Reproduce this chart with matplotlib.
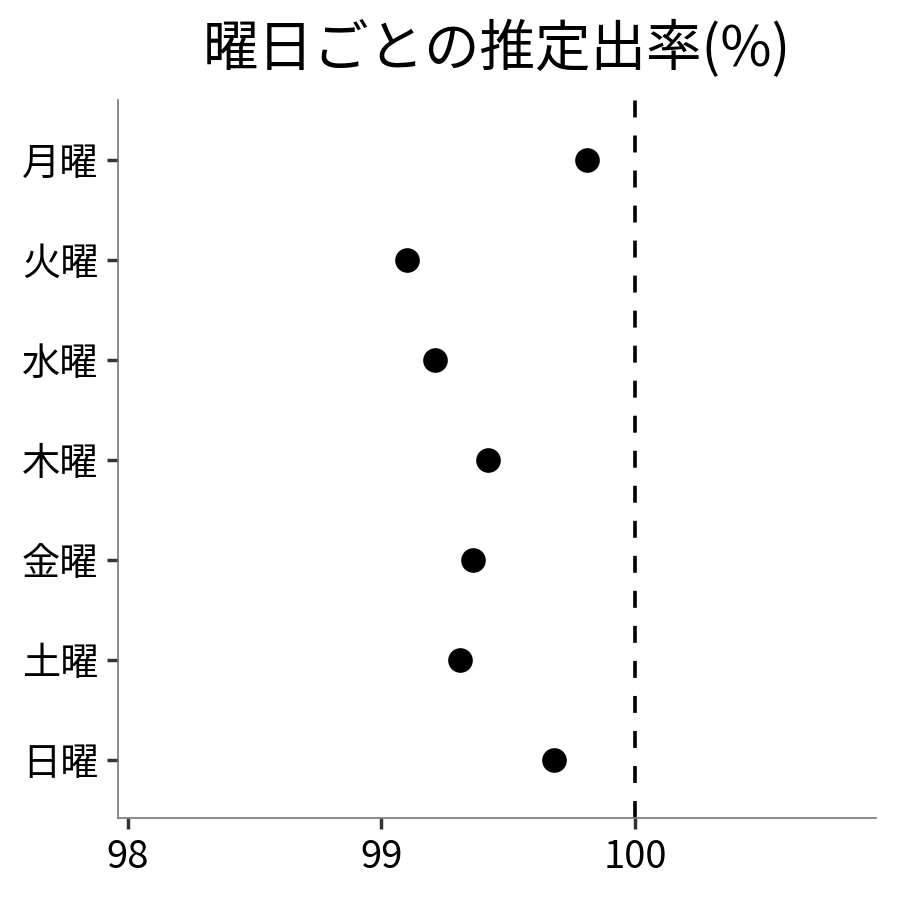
import matplotlib.pyplot as plt

plt.rcParams['font.family'] = ['Noto Sans CJK JP', 'DejaVu Sans']

days = ['月曜', '火曜', '水曜', '木曜', '金曜', '土曜', '日曜']
rates = [99.81, 99.10, 99.21, 99.42, 99.36, 99.31, 99.68]
ref_line = 100
xticks = [98, 99, 100]

fig = plt.figure(figsize=(9, 9), dpi=100)
ax = fig.add_axes([0.131, 0.091, 0.842, 0.798])

ypos = list(range(len(days)))[::-1]
ax.scatter(rates, ypos, s=280, color='black', zorder=3)
ax.axvline(ref_line, color='black', lw=2.6, dashes=(4.7, 5.0))

ax.set_yticks(ypos)
ax.set_yticklabels(days)
ax.set_xticks(xticks)
ax.set_xlim(97.96, 100.95)
ax.set_ylim(-0.58, 6.6)

for s in ['top', 'right']:
    ax.spines[s].set_visible(False)
for s in ['left', 'bottom']:
    ax.spines[s].set_color('#777777')
    ax.spines[s].set_linewidth(1.2)
ax.tick_params(axis='both', colors='#333333', width=2.5, length=8, labelsize=27.5, labelcolor='black')
ax.tick_params(axis='y', pad=6)
ax.tick_params(axis='x', pad=6)

ax.set_title('曜日ごとの推定出率(%)', fontsize=40, pad=24)

fig.savefig('out.png', dpi=100)
